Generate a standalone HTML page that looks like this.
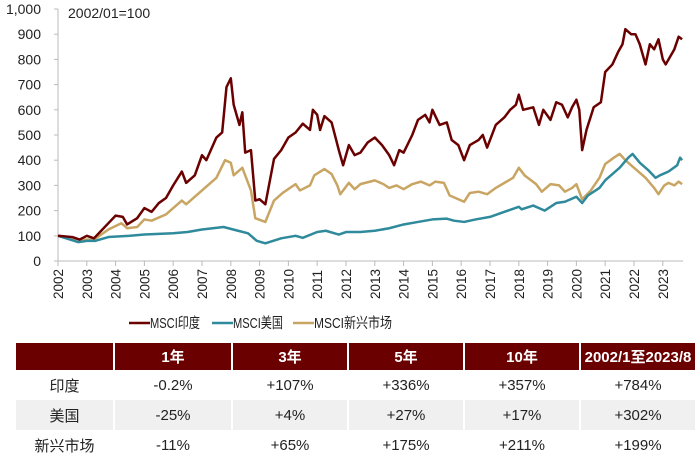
<!DOCTYPE html>
<html><head><meta charset="utf-8"><style>
body{margin:0;background:#fff;width:700px;height:466px;overflow:hidden;font-family:"Liberation Sans","Noto Sans CJK SC",sans-serif;}
svg text{font-family:"Liberation Sans","Noto Sans CJK SC",sans-serif;}
table{position:absolute;left:14px;top:343px;border-collapse:separate;border-spacing:2px 0;font-size:15px;color:#222;}
td,th{text-align:center;padding:0;}
th{background:#6b0000;color:#fff;height:27px;font-weight:bold;font-size:15px;}
td{height:30px;}
tr.g td{background:#f0f0f0;}
</style></head><body>
<svg id="chart" width="700" height="340" style="position:absolute;left:0;top:0"></svg>
<table>
<tr><th style="width:97px;background:#6b0000"></th><th style="width:116px">1年</th><th style="width:114px">3年</th><th style="width:114px">5年</th><th style="width:114px">10年</th><th style="width:114px">2002/1至2023/8</th></tr>
<tr><td>印度</td><td>-0.2%</td><td>+107%</td><td>+336%</td><td>+357%</td><td>+784%</td></tr>
<tr class="g"><td>美国</td><td>-25%</td><td>+4%</td><td>+27%</td><td>+17%</td><td>+302%</td></tr>
<tr><td>新兴市场</td><td>-11%</td><td>+65%</td><td>+175%</td><td>+211%</td><td>+199%</td></tr>
</table>
<script>
const years=[2002,2003,2004,2005,2006,2007,2008,2009,2010,2011,2012,2013,2014,2015,2016,2017,2018,2019,2020,2021,2022,2023];
const yTicks=[0,100,200,300,400,500,600,700,800,900,1000];
const yTickLabels=["0","100","200","300","400","500","600","700","800","900","1,000"];
const indiaT=[2002,2002.5,2002.75,2003,2003.25,2003.5,2003.75,2004,2004.25,2004.4,2004.75,2005,2005.25,2005.5,2005.75,2006,2006.3,2006.45,2006.75,2007,2007.15,2007.5,2007.7,2007.85,2008,2008.1,2008.3,2008.4,2008.5,2008.7,2008.85,2009,2009.2,2009.5,2009.75,2010,2010.25,2010.5,2010.75,2010.85,2011,2011.1,2011.25,2011.5,2011.75,2011.9,2012.1,2012.3,2012.5,2012.75,2013,2013.25,2013.5,2013.67,2013.85,2014,2014.3,2014.5,2014.75,2014.9,2015,2015.25,2015.5,2015.67,2015.9,2016.1,2016.3,2016.6,2016.75,2016.9,2017.2,2017.5,2017.7,2017.9,2018,2018.15,2018.5,2018.7,2018.85,2019.1,2019.3,2019.5,2019.7,2019.85,2020,2020.1,2020.2,2020.35,2020.6,2020.85,2021,2021.25,2021.45,2021.6,2021.7,2021.9,2022.05,2022.2,2022.4,2022.55,2022.7,2022.85,2023,2023.1,2023.4,2023.55,2023.67];
const indiaV=[100,95,85,100,90,120,150,180,175,145,170,210,195,230,250,300,355,310,340,420,400,490,510,690,725,620,540,590,430,440,240,245,225,405,440,490,510,545,520,600,580,520,575,550,440,380,460,420,430,470,490,460,420,380,440,430,500,560,580,550,600,540,550,480,460,400,460,480,500,450,540,570,600,620,660,600,610,540,600,560,630,620,570,610,640,600,440,520,610,630,750,780,830,860,920,900,900,860,780,860,840,880,800,780,840,890,880];
const usT=[2002,2002.7,2003,2003.3,2003.75,2004.5,2005,2006,2006.5,2007,2007.75,2008.25,2008.6,2008.9,2009.2,2009.75,2010.25,2010.5,2011,2011.3,2011.75,2012,2012.5,2013,2013.5,2014,2014.5,2015,2015.5,2015.75,2016.1,2016.5,2017,2017.5,2018,2018.1,2018.5,2018.9,2019.3,2019.6,2020,2020.2,2020.4,2020.8,2021,2021.5,2021.8,2021.95,2022.2,2022.5,2022.75,2022.9,2023.2,2023.5,2023.6,2023.67];
const usV=[100,75,80,80,95,100,105,110,115,125,135,120,110,80,70,90,100,92,115,120,105,115,115,120,130,145,155,165,168,160,155,165,175,195,215,205,220,200,230,235,255,230,260,290,320,370,410,425,390,360,330,340,355,380,410,400];
const emT=[2002,2002.75,2003.25,2003.75,2004.2,2004.4,2004.75,2005,2005.25,2005.75,2006,2006.3,2006.45,2007,2007.5,2007.8,2008,2008.1,2008.4,2008.7,2008.85,2009.2,2009.5,2009.8,2010.25,2010.4,2010.75,2010.9,2011.25,2011.5,2011.7,2011.8,2012.1,2012.3,2012.5,2013,2013.3,2013.5,2013.75,2014,2014.3,2014.6,2014.9,2015.1,2015.4,2015.6,2016.1,2016.3,2016.6,2016.9,2017.2,2017.5,2017.8,2018,2018.2,2018.6,2018.8,2019.1,2019.4,2019.6,2019.85,2020,2020.2,2020.5,2020.8,2021,2021.3,2021.5,2021.7,2022,2022.4,2022.7,2022.85,2023.05,2023.2,2023.4,2023.55,2023.67];
const emV=[100,85,85,125,150,130,135,165,160,185,210,240,225,280,330,400,390,340,370,280,170,155,240,270,305,280,300,340,365,345,300,265,310,285,305,320,305,290,300,285,305,315,300,315,310,260,235,270,275,265,290,310,330,370,340,305,275,305,300,275,290,305,245,280,330,385,410,425,400,370,330,290,265,300,310,300,315,305];
const NS="http://www.w3.org/2000/svg";
const svg=document.getElementById('chart');
const X0=58,XPER=28.8,Y0=261,YS=0.252;
const xs=t=>X0+(t-2002)*XPER, ys=v=>Y0-v*YS;
function mk(tag,attrs,parent){const e=document.createElementNS(NS,tag);for(const k in attrs)e.setAttribute(k,attrs[k]);(parent||svg).appendChild(e);return e;}
let ax=mk('line',{x1:X0,y1:Y0,x2:683,y2:Y0,stroke:'#bbb','stroke-width':1});


let ay=mk('line',{x1:X0,y1:ys(1000),x2:X0,y2:Y0,stroke:'#bbb','stroke-width':1});


yTicks.forEach((v,i)=>{
  mk('line',{x1:X0-4,x2:X0,y1:ys(v),y2:ys(v),stroke:'#bbb'});
  const t=mk('text',{x:X0-17,y:ys(v)+5,'text-anchor':'end','font-size':14,fill:'#222'});t.textContent=yTickLabels[i];
  
  
});
years.forEach(y=>{
  mk('line',{x1:xs(y),x2:xs(y),y1:Y0,y2:Y0+5,stroke:'#bbb'});
  const t=mk('text',{transform:`translate(${xs(y)+5},${Y0+38}) rotate(-90)`,'font-size':13.5,fill:'#222'});t.textContent=y;
  
  
});
const note=mk('text',{x:68,y:18,'font-size':14,fill:'#222'});note.textContent='2002/01=100';


function series(T,V,color,name){
  const p=mk('polyline',{points:T.map((t,i)=>xs(t)+','+ys(V[i])).join(' '),fill:'none',stroke:color,'stroke-width':2.5,'stroke-linejoin':'round'});
  
  
}
series(emT,emV,'#c9a563','line-msci-em');
series(usT,usV,'#2f8a9c','line-msci-us');
series(indiaT,indiaV,'#6b0000','line-msci-india');
const leg=[['MSCI印度','#6b0000',129,50],['MSCI美国','#2f8a9c',212,50],['MSCI新兴市场','#c9a563',293,78]];
leg.forEach(l=>{
  const g=mk('g',{});
  
  
  mk('line',{x1:l[2],x2:l[2]+21,y1:323,y2:323,stroke:l[1],'stroke-width':2.5},g);
  const t=mk('text',{x:l[2]+21,y:328,'font-size':14.5,fill:'#222',textLength:l[3],lengthAdjust:'spacingAndGlyphs'},g);t.textContent=l[0];
});
</script>
</body></html>
